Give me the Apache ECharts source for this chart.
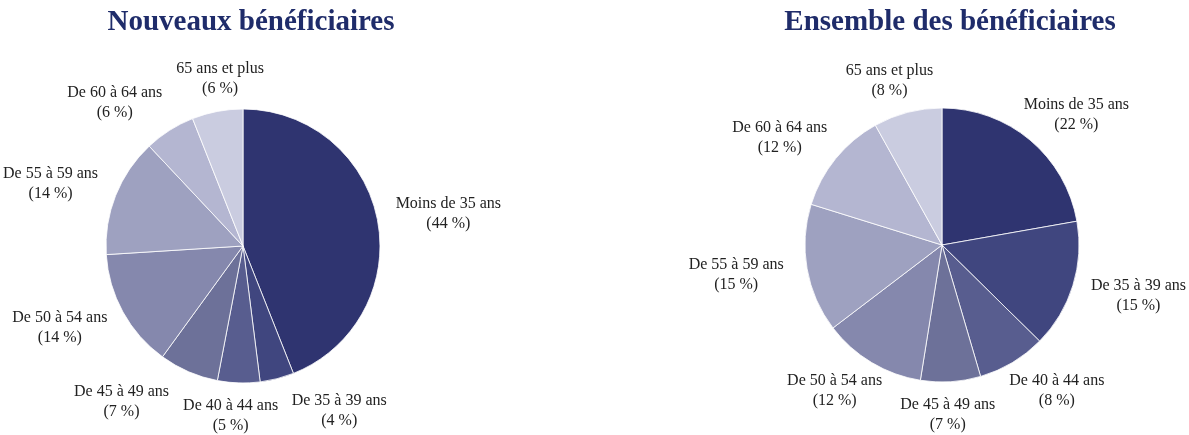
<!DOCTYPE html>
<html><head><meta charset="utf-8">
<script src="https://cdn.jsdelivr.net/npm/echarts@6/dist/echarts.min.js"></script>
<style>html,body{margin:0;padding:0;background:#fff}#c{width:1189px;height:435px}</style>
</head><body><div id="c"></div>
<script>
const categories = ['Moins de 35 ans','De 35 à 39 ans','De 40 à 44 ans','De 45 à 49 ans','De 50 à 54 ans','De 55 à 59 ans','De 60 à 64 ans','65 ans et plus'];
const nouveaux = [44, 4, 5, 7, 14, 14, 6, 6];
const ensemble = [22, 15, 8, 7, 12, 15, 12, 8];
const titles = ['Nouveaux bénéficiaires', 'Ensemble des bénéficiaires'];
const colors = ['#2f3470','#40467f','#585d8f','#6d7199','#8588ad','#9ea1c0','#b4b6d1','#cacce0'];

const FONT = '"Liberation Serif", "DejaVu Serif", serif';
const LABEL_SIZE = 16, LINE_H = 20;
const W = 1189;
const chart = echarts.init(document.getElementById('c'));

const ctx = document.createElement('canvas').getContext('2d');
ctx.font = LABEL_SIZE + 'px ' + FONT;
const labelText = (name, v) => [name, '(' + v + ' %)'];

function layoutLabels(vals, center, rx, ry, gap) {
  const total = vals.reduce((a, b) => a + b, 0);
  let acc = 0;
  const pos = vals.map((v, i) => {
    const t = (acc + v / 2) / total * 2 * Math.PI;
    acc += v;
    const w = Math.max(...labelText(categories[i], v).map(s => ctx.measureText(s).width));
    return { x: center[0] + Math.sin(t) * rx, y: center[1] - Math.cos(t) * ry, w: w, h: LINE_H * 2 };
  });
  // resolve overlaps by pushing labels apart horizontally
  for (let it = 0; it < 60; it++) {
    let moved = false;
    for (let i = 0; i < pos.length; i++) for (let j = i + 1; j < pos.length; j++) {
      const a = pos[i], b = pos[j];
      const need = (a.w + b.w) / 2 + gap - Math.abs(a.x - b.x);
      if (need > 0.5 && Math.abs(a.y - b.y) < (a.h + b.h) / 2) {
        const s = a.x <= b.x ? 1 : -1;
        a.x -= s * need / 2; b.x += s * need / 2; moved = true;
      }
    }
    if (!moved) break;
  }
  pos.forEach(p => { p.x = Math.min(Math.max(p.x, p.w / 2 + 3), W - p.w / 2 - 3); });
  return pos;
}

function pie(vals, center) {
  const pos = layoutLabels(vals, center, 209, 170, 14);
  return {
    type: 'pie',
    center: center,
    radius: 137,
    startAngle: 90,
    clockwise: true,
    avoidLabelOverlap: false,
    data: categories.map((c, i) => ({ name: c, value: vals[i] })),
    itemStyle: { borderColor: '#ffffff', borderWidth: 0.8 },
    label: {
      show: true,
      position: 'outside',
      formatter: p => labelText(p.name, p.value).join('\n'),
      fontFamily: FONT,
      fontSize: LABEL_SIZE,
      lineHeight: LINE_H,
      color: '#222'
    },
    labelLine: { show: false },
    labelLayout: function (params) {
      const p = pos[params.dataIndex];
      return { x: p.x, y: p.y, align: 'center', verticalAlign: 'middle' };
    },
    emphasis: { disabled: true }
  };
}

chart.setOption({
  animation: false,
  color: colors,
  title: [
    { text: titles[0], left: 246, top: 3, textAlign: 'center',
      textStyle: { fontFamily: FONT, fontSize: 29, fontWeight: 'bold', color: '#1f2c6a' } },
    { text: titles[1], left: 945, top: 3, textAlign: 'center',
      textStyle: { fontFamily: FONT, fontSize: 29, fontWeight: 'bold', color: '#1f2c6a' } }
  ],
  series: [pie(nouveaux, [243, 246]), pie(ensemble, [942, 245])]
});
</script></body></html>
